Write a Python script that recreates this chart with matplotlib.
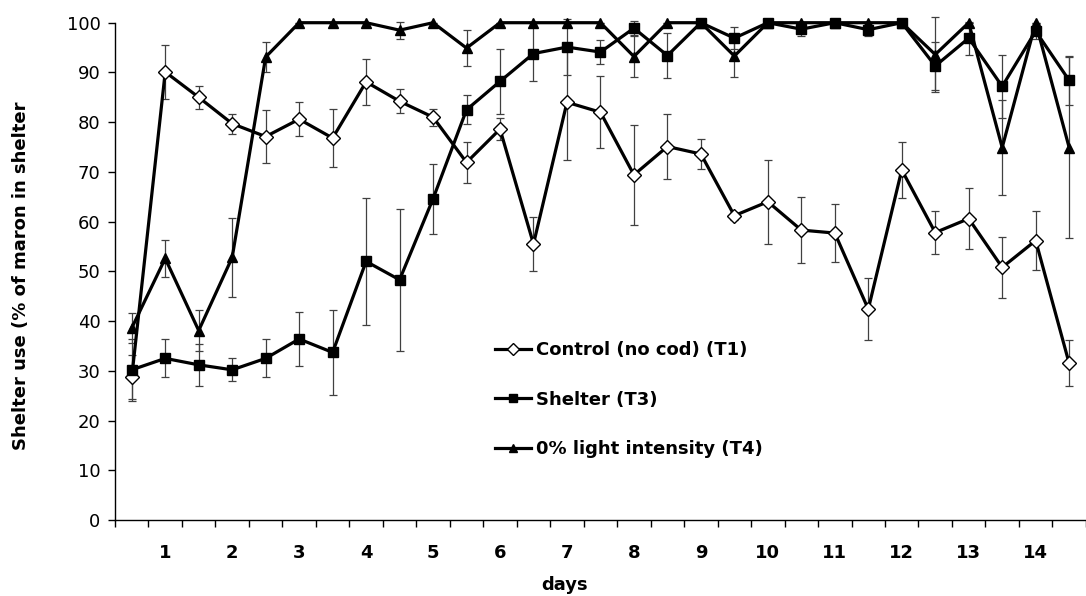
import numpy as np
import matplotlib
matplotlib.use("Agg")
import matplotlib.pyplot as plt

plt.rcParams['font.family'] = ['DejaVu Sans']

# 29 half-day observations, labelled days 1..14 on every second category
day_labels = [str(d) for d in range(1, 15)]

control = [28.7, 90.1, 85.0, 79.7, 77.1, 80.6, 76.8, 88.1, 84.2, 81.0, 71.9, 78.6, 55.5, 84.0, 82.0,
           69.4, 75.1, 73.6, 61.2, 64.0, 58.3, 57.7, 42.4, 70.4, 57.8, 60.6, 50.8, 56.2, 31.5]
control_err = [4.4, 5.4, 2.3, 2.0, 5.3, 3.4, 5.8, 4.7, 2.4, 1.7, 4.2, 2.2, 5.5, 11.7, 7.2,
               10.0, 6.6, 3.0, 0.8, 8.4, 6.7, 5.8, 6.2, 5.6, 4.4, 6.1, 6.2, 5.9, 4.6]

shelter = [30.2, 32.5, 31.2, 30.2, 32.5, 36.4, 33.7, 52.0, 48.3, 64.6, 82.5, 88.2, 93.8, 95.1, 94.1,
           98.9, 93.4, 100, 96.9, 100, 98.7, 100, 98.6, 100, 91.3, 96.9, 87.2, 98.3, 88.4]
shelter_err = [6.2, 3.8, 4.2, 2.3, 3.8, 5.5, 8.5, 12.8, 14.3, 7.0, 2.9, 6.5, 5.5, 5.6, 2.5,
               1.4, 4.5, 0, 2.2, 0, 1.3, 0, 1.3, 0, 4.8, 3.3, 6.4, 1.5, 5.0]

light = [38.6, 52.6, 38.1, 52.8, 93.1, 100, 100, 100, 98.5, 100, 94.9, 100, 100, 100, 100,
         93.2, 100, 100, 93.3, 100, 100, 100, 100, 100, 93.6, 100, 74.9, 100, 74.9]
light_err = [3.0, 3.7, 4.2, 8.0, 3.0, 0, 0, 0, 1.7, 0, 3.7, 0, 0, 0, 0,
             4.2, 0, 0, 4.2, 0, 0, 0, 0, 0, 7.5, 0, 9.5, 0, 18.2]

labels = ['Control (no cod) (T1)', 'Shelter (T3)', '0% light intensity (T4)']
FS = 13

x = np.arange(1, len(control) + 1)

fig = plt.figure(figsize=(10.86, 5.96), dpi=100)
ax = fig.add_axes([0.1059, 0.1275, 0.894, 0.8344])

series = [
    (control, control_err, dict(marker='D', markersize=7.5, markerfacecolor='white')),
    (shelter, shelter_err, dict(marker='s', markersize=6.5, markerfacecolor='black')),
    (light, light_err, dict(marker='^', markersize=7.5, markerfacecolor='black')),
]
for (y, err, style), lab in zip(series, labels):
    ax.errorbar(x, y, yerr=err, fmt='none', ecolor='0.25', elinewidth=0.9, capsize=2.6,
                capthick=0.9, clip_on=False, zorder=2)
    ax.plot(x, y, color='black', linewidth=2.3, markeredgecolor='black', markeredgewidth=1.0,
            label=lab, clip_on=False, zorder=3, **style)

ax.set_xlim(0.5, 0.5 + (1086 - 115) / 33.6)
ax.set_ylim(0, 100)
ax.set_yticks(np.arange(0, 101, 10))
ax.tick_params(axis='y', direction='out', length=5, width=1, labelsize=FS, pad=5.5)

ax.set_xticks(np.arange(0.5, 30, 1))
ax.set_xticklabels([])
ax.tick_params(axis='x', which='major', direction='out', length=5, width=1)
ax.set_xticks(np.arange(2, 29, 2), minor=True)
ax.set_xticklabels(day_labels, minor=True, fontweight='bold', fontsize=FS)
ax.tick_params(axis='x', which='minor', length=0, pad=17)

for side in ('top', 'right'):
    ax.spines[side].set_visible(False)
for side in ('left', 'bottom'):
    ax.spines[side].set_linewidth(1)

fig.text(0.019, 0.538, 'Shelter use (% of maron in shelter', rotation=90, ha='center', va='center',
         fontsize=FS, fontweight='bold')
fig.text(0.52, 0.0185, 'days', ha='center', va='center', fontsize=FS, fontweight='bold')

ax.legend(frameon=False, loc='upper left', bbox_to_anchor=(0.378, 0.385), prop={'weight': 'bold', 'size': FS},
          handlelength=2.0, handletextpad=0.3, labelspacing=1.75, markerscale=0.8, borderpad=0.2)

fig.savefig('out.png', dpi=100)
